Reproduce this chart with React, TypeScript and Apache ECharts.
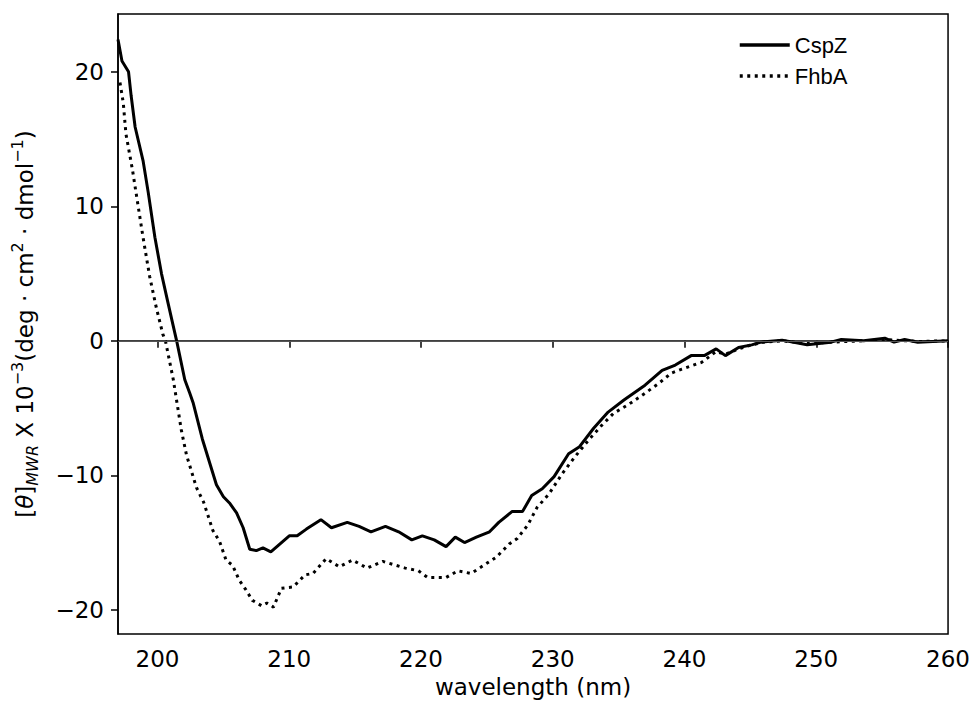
import React, { useEffect, useRef } from "react";
import * as echarts from "echarts";

const cspzWavelength = [
  197.0, 197.3, 197.8, 198.0, 198.3, 198.9, 199.3, 199.8, 200.3, 200.8, 201.1, 201.45,
  202.07, 202.45, 202.7, 203.4, 204.47, 205.0, 205.5, 206.0, 206.5, 207.0, 207.5, 208.0,
  208.6, 209.3, 210.0, 210.6, 211.3, 212.4, 213.2, 214.4, 215.3, 216.2, 217.3, 218.3,
  219.3, 220.1, 221.0, 221.9, 222.6, 223.3, 224.2, 225.2, 225.9, 226.9, 227.7, 228.4,
  229.2, 230.1, 231.2, 232.0, 233.1, 234.2, 235.4, 237.0, 238.3, 239.3, 240.5, 241.5,
  242.4, 243.1, 244.1, 245.1, 245.8, 247.4, 249.3, 251.1, 251.9, 253.6, 255.2, 255.9,
  256.7, 257.7, 260.0,
];
const cspzTheta = [
  22.4, 20.8, 20.0, 18.2, 15.9, 13.4, 11.0, 7.7, 5.0, 2.8, 1.5, 0.0,
  -2.9, -3.9, -4.6, -7.3, -10.7, -11.6, -12.1, -12.8, -13.9, -15.5, -15.6, -15.4,
  -15.7, -15.1, -14.5, -14.5, -14.0, -13.3, -13.9, -13.5, -13.8, -14.2, -13.8, -14.2,
  -14.8, -14.5, -14.8, -15.3, -14.6, -15.0, -14.6, -14.2, -13.5, -12.7, -12.7, -11.5,
  -11.0, -10.1, -8.4, -7.9, -6.5, -5.3, -4.4, -3.3, -2.2, -1.8, -1.1, -1.1,
  -0.6, -1.1, -0.5, -0.3, -0.1, 0.05, -0.3, -0.1, 0.1, 0.0, 0.2, -0.1,
  0.1, -0.1, 0.0,
];

const fhbaWavelength = [
  197.15, 197.4, 197.6, 198.1, 198.5, 198.9, 199.4, 199.9, 200.4, 200.6, 201.2, 201.8,
  202.2, 202.95, 203.5, 204.2, 204.7, 205.2, 205.7, 206.2, 206.7, 207.2, 207.9, 208.3,
  208.8, 209.4, 210.3, 211.2, 211.8, 212.8, 213.8, 214.8, 215.9, 217.1, 218.8, 219.8,
  220.5, 221.9, 222.8, 223.8, 224.9, 225.7, 226.7, 227.3, 228.1, 228.8, 229.7, 230.7,
  231.7, 232.7, 233.7, 234.6, 235.8, 237.0, 238.0, 239.0, 239.8, 241.3, 242.4, 243.1,
  244.1, 245.1, 246.0, 247.4, 249.3, 251.1, 253.6, 255.2, 257.7, 260.0,
];
const fhbaTheta = [
  19.2, 17.7, 15.4, 12.7, 10.2, 7.7, 4.8, 2.5, 0.5, 0.0, -2.9, -6.6,
  -8.5, -10.9, -12.0, -14.1, -14.9, -16.3, -16.7, -17.8, -18.5, -19.3, -19.7, -19.5,
  -19.8, -18.4, -18.3, -17.4, -17.3, -16.2, -16.8, -16.3, -16.9, -16.4, -16.9, -17.1,
  -17.6, -17.6, -17.1, -17.3, -16.6, -16.1, -15.1, -14.7, -13.7, -12.4, -11.4, -9.9,
  -8.6, -7.4, -6.3, -5.4, -4.7, -3.9, -3.2, -2.4, -2.1, -1.6, -0.8, -1.0,
  -0.6, -0.3, -0.1, 0.0, -0.2, -0.1, 0.0, 0.1, -0.05, 0.0,
];

const xTicks = [200, 210, 220, 230, 240, 250, 260];
const yTicks = [-20, -10, 0, 10, 20];
const seriesNames = ["CspZ", "FhbA"];

const TICK_FONT = "DejaVu Sans";
const FS = 23;

export default function App() {
  const ref = useRef<HTMLDivElement>(null);

  useEffect(() => {
    if (!ref.current) return;
    const chart = echarts.init(ref.current, null, { renderer: "svg" });
    const zip = (xs: number[], ys: number[]) => xs.map((x, i) => [x, ys[i]]);

    chart.setOption({
      animation: false,
      backgroundColor: "#ffffff",
      grid: {
        left: 118,
        right: 22,
        top: 14,
        bottom: 71,
        show: true,
        borderColor: "#000",
        borderWidth: 1.5,
        backgroundColor: "transparent",
      },
      legend: {
        orient: "vertical",
        left: 733,
        top: 29,
        itemWidth: 50,
        itemHeight: 22,
        itemGap: 9,
        selectedMode: false,
        data: seriesNames,
        itemStyle: { opacity: 0, borderWidth: 0 },
        lineStyle: { width: 3.5 },
        textStyle: {
          fontFamily: "Liberation Sans",
          fontSize: 22,
          color: "#000",
          lineHeight: 22,
          padding: [0, 0, 0, 0],
        },
      },
      xAxis: {
        type: "value",
        min: 197,
        max: 260,
        name: "wavelength (nm)",
        nameLocation: "middle",
        nameGap: 41,
        nameTextStyle: { fontFamily: TICK_FONT, fontSize: FS, color: "#000" },
        axisLine: { show: true, lineStyle: { color: "#000", width: 1.5 } },
        axisTick: {
          show: true,
          length: 7,
          lineStyle: { color: "#000", width: 1.5 },
          customValues: xTicks,
        },
        axisLabel: {
          fontFamily: TICK_FONT,
          fontSize: FS,
          color: "#000",
          margin: 13,
          customValues: xTicks,
          showMinLabel: true,
          showMaxLabel: true,
        },
        splitLine: { show: false },
      },
      yAxis: {
        type: "value",
        min: -21.8,
        max: 24.3,
        name:
          "{b|[}{i|θ}{b|]}{sub|MWR}{b| X 10}{sup|−3}{b|(deg · cm}{sup|2}{b| · dmol}{sup|−1}{b|)}",
        nameLocation: "middle",
        nameRotate: 90,
        nameGap: 78,
        nameTextStyle: {
          fontFamily: TICK_FONT,
          fontSize: FS,
          color: "#000",
          rich: {
            b: { fontFamily: TICK_FONT, fontSize: FS, color: "#000", lineHeight: 31 },
            i: {
              fontFamily: TICK_FONT,
              fontSize: FS,
              fontStyle: "italic",
              color: "#000",
              lineHeight: 31,
            },
            sub: {
              fontFamily: TICK_FONT,
              fontSize: 16,
              fontStyle: "italic",
              color: "#000",
              lineHeight: 16,
              verticalAlign: "bottom",
            },
            sup: {
              fontFamily: TICK_FONT,
              fontSize: 16,
              color: "#000",
              lineHeight: 16,
              verticalAlign: "top",
            },
          },
        },
        axisLine: { show: true, lineStyle: { color: "#000", width: 1.5 } },
        axisTick: {
          show: true,
          length: 7,
          lineStyle: { color: "#000", width: 1.5 },
          customValues: yTicks,
        },
        axisLabel: {
          fontFamily: TICK_FONT,
          fontSize: FS,
          color: "#000",
          margin: 14,
          customValues: yTicks,
          formatter: (v: number) => (v < 0 ? "−" + Math.abs(v) : String(v)),
        },
        splitLine: { show: false },
      },
      series: [
        {
          name: seriesNames[0],
          type: "line",
          data: zip(cspzWavelength, cspzTheta),
          symbol: "none",
          lineStyle: { color: "#000", width: 3, type: "solid" },
          itemStyle: { color: "#000" },
          z: 3,
          markLine: {
            silent: true,
            symbol: "none",
            label: { show: false },
            lineStyle: { color: "#555", width: 1, type: "solid" },
            data: [{ yAxis: 0 }],
          },
        },
        {
          name: seriesNames[1],
          type: "line",
          data: zip(fhbaWavelength, fhbaTheta),
          symbol: "none",
          lineStyle: { color: "#000", width: 3, type: [3, 4.5], cap: "butt" },
          itemStyle: { color: "#000" },
          z: 4,
        },
      ],
    });

    return () => chart.dispose();
  }, []);

  return <div ref={ref} style={{ width: 973, height: 705, position: "absolute", left: 0, top: 0 }} />;
}
